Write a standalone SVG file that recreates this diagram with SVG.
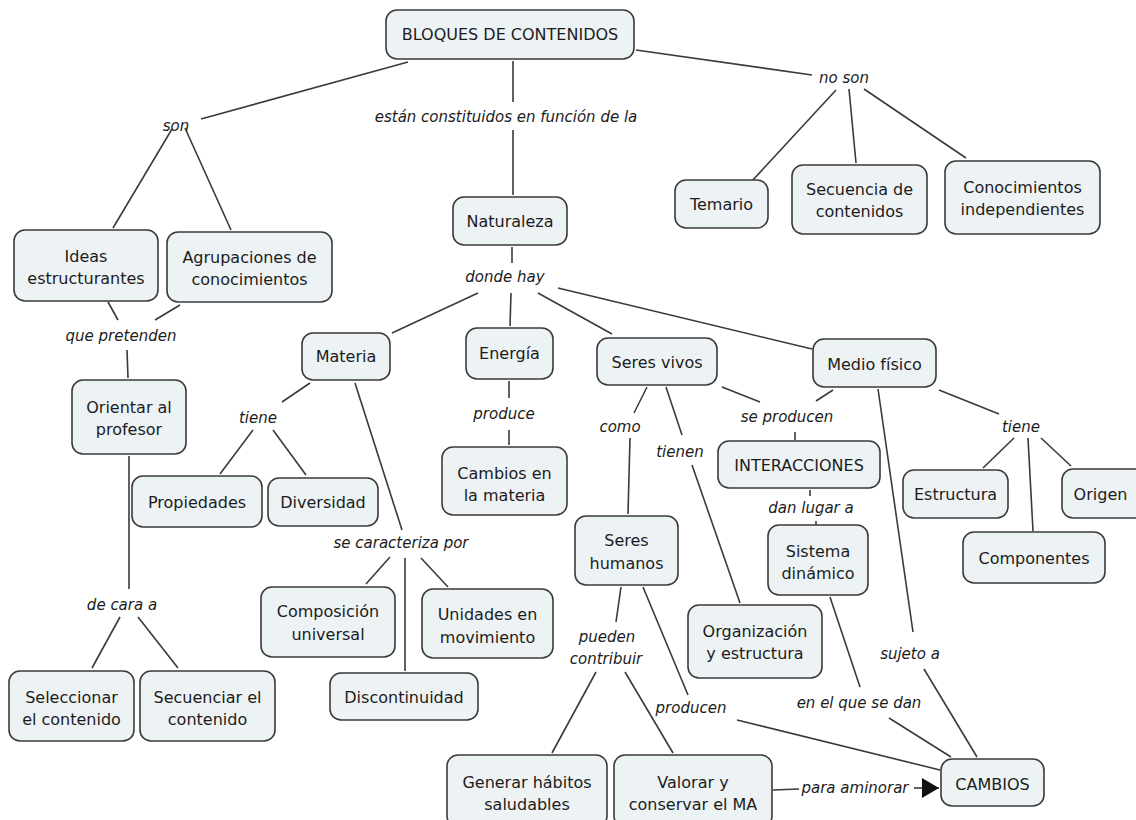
<svg xmlns="http://www.w3.org/2000/svg" width="1136" height="820" viewBox="0 0 1136 820">
<style>
.n rect{fill:#edf2f5;stroke:#3a3a3a;stroke-width:1.6}
.n text{font-family:"DejaVu Sans","Liberation Sans",sans-serif;font-size:16px;fill:#1c1c1c;text-anchor:middle;dominant-baseline:central}
.l{font-family:"DejaVu Sans","Liberation Sans",sans-serif;font-size:15px;font-style:italic;fill:#1c1c1c;text-anchor:middle;dominant-baseline:central}
#connectors line{stroke:#3a3a3a;stroke-width:1.6}
</style>
<defs>
<marker id="arr" markerWidth="17" markerHeight="20" refX="17" refY="10" orient="auto" markerUnits="userSpaceOnUse" viewBox="0 0 17 20">
<path d="M0,0 L17,10 L0,20 z" fill="#111"/>
</marker>
</defs>
<rect width="1136" height="820" fill="#fff"/>
<g id="connectors">
<line x1="408" y1="62" x2="201" y2="119"/>
<line x1="172" y1="129" x2="113" y2="228"/>
<line x1="185" y1="128" x2="231" y2="230"/>
<line x1="513" y1="61" x2="513" y2="102"/>
<line x1="513" y1="130" x2="513" y2="195"/>
<line x1="636" y1="50" x2="812" y2="75"/>
<line x1="836" y1="90" x2="752" y2="181"/>
<line x1="849" y1="89" x2="856" y2="163"/>
<line x1="864" y1="89" x2="966" y2="158"/>
<line x1="108" y1="302" x2="118" y2="320"/>
<line x1="180" y1="305" x2="155" y2="320"/>
<line x1="127" y1="350" x2="128" y2="378"/>
<line x1="129" y1="456" x2="129" y2="589"/>
<line x1="120" y1="617" x2="92" y2="668"/>
<line x1="138" y1="617" x2="178" y2="668"/>
<line x1="512" y1="247" x2="512" y2="263"/>
<line x1="478" y1="293" x2="392" y2="333"/>
<line x1="511" y1="293" x2="510" y2="326"/>
<line x1="538" y1="293" x2="612" y2="334"/>
<line x1="558" y1="288" x2="812" y2="349"/>
<line x1="310" y1="383" x2="282" y2="402"/>
<line x1="253" y1="430" x2="220" y2="474"/>
<line x1="273" y1="430" x2="306" y2="475"/>
<line x1="355" y1="383" x2="402" y2="530"/>
<line x1="390" y1="557" x2="366" y2="584"/>
<line x1="405" y1="558" x2="405" y2="671"/>
<line x1="421" y1="558" x2="448" y2="587"/>
<line x1="509" y1="381" x2="509" y2="398"/>
<line x1="509" y1="430" x2="509" y2="445"/>
<line x1="647" y1="387" x2="634" y2="413"/>
<line x1="630" y1="438" x2="628" y2="514"/>
<line x1="666" y1="387" x2="682" y2="435"/>
<line x1="692" y1="465" x2="740" y2="603"/>
<line x1="722" y1="387" x2="760" y2="402"/>
<line x1="833" y1="390" x2="816" y2="401"/>
<line x1="795" y1="432" x2="795" y2="440"/>
<line x1="810" y1="490" x2="810" y2="496"/>
<line x1="816" y1="521" x2="816" y2="525"/>
<line x1="939" y1="390" x2="999" y2="414"/>
<line x1="1014" y1="438" x2="983" y2="468"/>
<line x1="1028" y1="438" x2="1033" y2="531"/>
<line x1="1041" y1="438" x2="1071" y2="466"/>
<line x1="878" y1="389" x2="913" y2="632"/>
<line x1="924" y1="669" x2="977" y2="757"/>
<line x1="830" y1="597" x2="860" y2="687"/>
<line x1="889" y1="718" x2="951" y2="757"/>
<line x1="643" y1="587" x2="688" y2="695"/>
<line x1="737" y1="720" x2="940" y2="770"/>
<line x1="621" y1="587" x2="616" y2="622"/>
<line x1="596" y1="672" x2="552" y2="753"/>
<line x1="625" y1="672" x2="673" y2="753"/>
<line x1="773" y1="790" x2="799" y2="789"/>
<line x1="914" y1="788" x2="939" y2="788" marker-end="url(#arr)"/>
</g>
<g id="labels">
<text class="l" x="176" y="126">son</text>
<text class="l" x="506" y="117">están constituidos en función de la</text>
<text class="l" x="844" y="78">no son</text>
<text class="l" x="505" y="277">donde hay</text>
<text class="l" x="121" y="336">que pretenden</text>
<text class="l" x="258" y="418">tiene</text>
<text class="l" x="401" y="543">se caracteriza por</text>
<text class="l" x="504" y="414">produce</text>
<text class="l" x="620" y="427">como</text>
<text class="l" x="680" y="452">tienen</text>
<text class="l" x="787" y="417">se producen</text>
<text class="l" x="811" y="508">dan lugar a</text>
<text class="l" x="1021" y="427">tiene</text>
<text class="l" x="122" y="605">de cara a</text>
<text class="l" x="607" y="637">pueden</text>
<text class="l" x="606" y="659">contribuir</text>
<text class="l" x="691" y="708">producen</text>
<text class="l" x="910" y="654">sujeto a</text>
<text class="l" x="859" y="703">en el que se dan</text>
<text class="l" x="855" y="788">para aminorar</text>
</g>
<g id="n-bloques" class="n"><rect x="386" y="10" width="248" height="49" rx="11"/><text x="510" y="34.5">BLOQUES DE CONTENIDOS</text></g>
<g id="n-naturaleza" class="n"><rect x="453" y="197" width="114" height="48" rx="11"/><text x="510" y="221">Naturaleza</text></g>
<g id="n-temario" class="n"><rect x="675" y="180" width="93" height="48" rx="11"/><text x="721.5" y="204">Temario</text></g>
<g id="n-secuencia" class="n"><rect x="792" y="165" width="135" height="69" rx="11"/><text x="859.5" y="189">Secuencia de</text><text x="859.5" y="211">contenidos</text></g>
<g id="n-conocimientos" class="n"><rect x="945" y="161" width="155" height="73" rx="11"/><text x="1022.5" y="187">Conocimientos</text><text x="1022.5" y="209">independientes</text></g>
<g id="n-ideas" class="n"><rect x="14" y="230" width="144" height="71" rx="11"/><text x="86" y="256">Ideas</text><text x="86" y="278">estructurantes</text></g>
<g id="n-agrupaciones" class="n"><rect x="167" y="232" width="165" height="70" rx="11"/><text x="249.5" y="257">Agrupaciones de</text><text x="249.5" y="279">conocimientos</text></g>
<g id="n-orientar" class="n"><rect x="72" y="380" width="114" height="74" rx="11"/><text x="129" y="407">Orientar al</text><text x="129" y="429">profesor</text></g>
<g id="n-materia" class="n"><rect x="302" y="333" width="88" height="47" rx="11"/><text x="346" y="356.5">Materia</text></g>
<g id="n-energia" class="n"><rect x="466" y="328" width="87" height="51" rx="11"/><text x="509.5" y="353.5">Energía</text></g>
<g id="n-seresvivos" class="n"><rect x="597" y="338" width="120" height="47" rx="11"/><text x="657" y="362">Seres vivos</text></g>
<g id="n-mediofisico" class="n"><rect x="813" y="339" width="123" height="48" rx="11"/><text x="874.5" y="364">Medio físico</text></g>
<g id="n-propiedades" class="n"><rect x="132" y="476" width="130" height="51" rx="11"/><text x="197" y="502">Propiedades</text></g>
<g id="n-diversidad" class="n"><rect x="268" y="478" width="110" height="48" rx="11"/><text x="323" y="502">Diversidad</text></g>
<g id="n-cambiosmateria" class="n"><rect x="442" y="447" width="125" height="68" rx="11"/><text x="504.5" y="473">Cambios en</text><text x="504.5" y="495">la materia</text></g>
<g id="n-interacciones" class="n"><rect x="718" y="441" width="162" height="47" rx="11"/><text x="799" y="465">INTERACCIONES</text></g>
<g id="n-estructura" class="n"><rect x="903" y="470" width="105" height="48" rx="11"/><text x="955.5" y="494">Estructura</text></g>
<g id="n-origen" class="n"><rect x="1062" y="469" width="90" height="49" rx="11"/><text x="1100.5" y="494">Origen</text></g>
<g id="n-componentes" class="n"><rect x="963" y="532" width="142" height="51" rx="11"/><text x="1034" y="558">Componentes</text></g>
<g id="n-sistema" class="n"><rect x="768" y="525" width="100" height="70" rx="11"/><text x="818" y="551">Sistema</text><text x="818" y="573">dinámico</text></g>
<g id="n-sereshumanos" class="n"><rect x="575" y="516" width="103" height="69" rx="11"/><text x="626.5" y="540">Seres</text><text x="626.5" y="563">humanos</text></g>
<g id="n-organizacion" class="n"><rect x="688" y="605" width="134" height="73" rx="11"/><text x="755" y="631">Organización</text><text x="755" y="653">y estructura</text></g>
<g id="n-composicion" class="n"><rect x="261" y="587" width="134" height="70" rx="11"/><text x="328" y="611">Composición</text><text x="328" y="634">universal</text></g>
<g id="n-unidades" class="n"><rect x="422" y="589" width="131" height="69" rx="11"/><text x="487.5" y="614">Unidades en</text><text x="487.5" y="637">movimiento</text></g>
<g id="n-discontinuidad" class="n"><rect x="330" y="673" width="148" height="47" rx="11"/><text x="404" y="697">Discontinuidad</text></g>
<g id="n-seleccionar" class="n"><rect x="9" y="671" width="125" height="70" rx="11"/><text x="71.5" y="697">Seleccionar</text><text x="71.5" y="719">el contenido</text></g>
<g id="n-secuenciar" class="n"><rect x="140" y="671" width="135" height="70" rx="11"/><text x="207.5" y="697">Secuenciar el</text><text x="207.5" y="719">contenido</text></g>
<g id="n-generar" class="n"><rect x="447" y="755" width="160" height="72" rx="11"/><text x="527" y="782">Generar hábitos</text><text x="527" y="804">saludables</text></g>
<g id="n-valorar" class="n"><rect x="614" y="755" width="158" height="72" rx="11"/><text x="693" y="782">Valorar y</text><text x="693" y="804">conservar el MA</text></g>
<g id="n-cambios" class="n"><rect x="941" y="759" width="103" height="47" rx="11"/><text x="992.5" y="784">CAMBIOS</text></g>
</svg>
